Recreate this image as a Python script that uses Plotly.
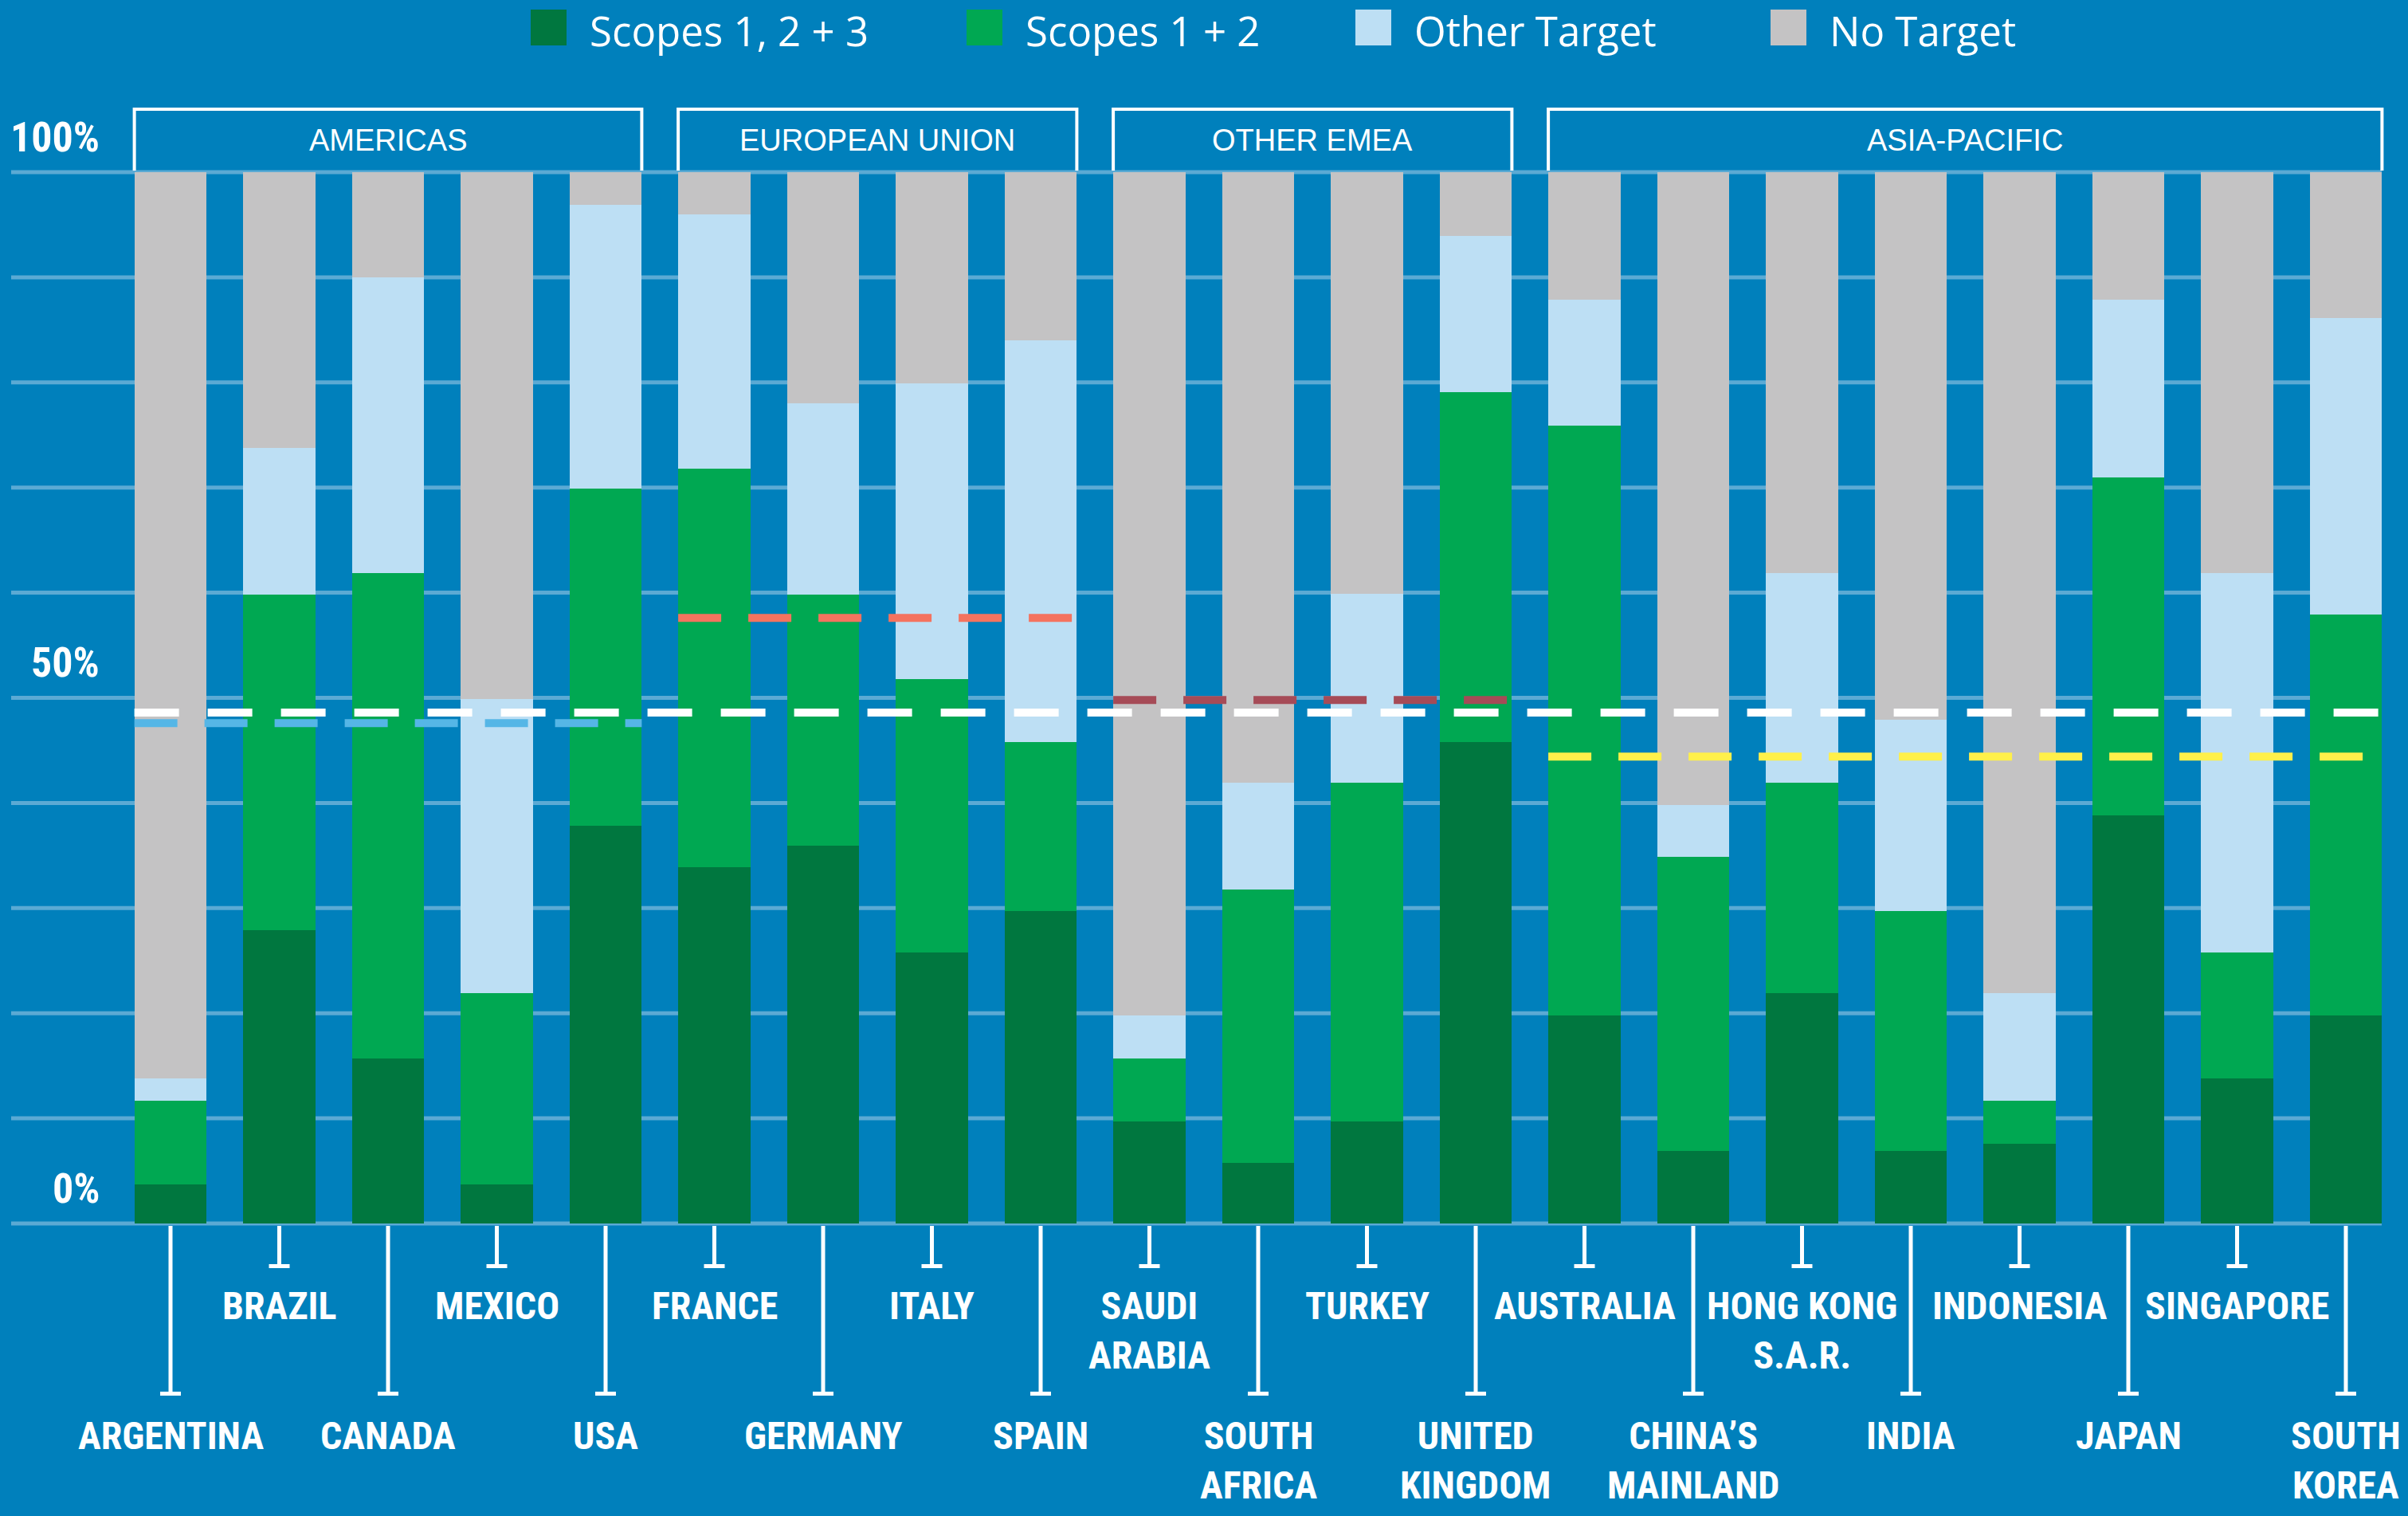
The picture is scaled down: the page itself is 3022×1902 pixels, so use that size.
import plotly.graph_objects as go

# ---- data (percent of companies) ----
countries = ["ARGENTINA", "BRAZIL", "CANADA", "MEXICO", "USA",
             "FRANCE", "GERMANY", "ITALY", "SPAIN",
             "SAUDI<br>ARABIA", "SOUTH<br>AFRICA", "TURKEY", "UNITED<br>KINGDOM",
             "AUSTRALIA", "CHINA’S<br>MAINLAND", "HONG KONG<br>S.A.R.", "INDIA",
             "INDONESIA", "JAPAN", "SINGAPORE", "SOUTH<br>KOREA"]

scopes_123 = [3.7, 27.9, 15.7, 3.7, 37.8, 33.9, 35.9, 25.8, 29.7, 9.7, 5.8,
              9.7, 45.8, 19.8, 6.9, 21.9, 6.9, 7.6, 38.8, 13.8, 19.8]
scopes_12 = [8.0, 31.9, 46.2, 18.2, 32.1, 37.9, 23.9, 26.0, 16.1, 6.0, 26.0,
             32.2, 33.3, 56.1, 28.0, 20.0, 22.8, 4.1, 32.2, 12.0, 38.1]
other_target = [2.1, 14.0, 28.1, 28.0, 27.0, 24.2, 18.2, 28.1, 38.2, 4.1, 10.1,
                18.0, 14.8, 12.0, 4.9, 20.0, 18.2, 10.2, 16.9, 36.1, 28.2]
no_target = [86.2, 26.2, 10.0, 50.1, 3.1, 4.0, 22.0, 20.1, 16.0, 80.2, 58.1,
             40.1, 6.1, 12.1, 60.2, 38.1, 52.1, 78.1, 12.1, 38.1, 13.9]

regions = ["AMERICAS", "EUROPEAN UNION", "OTHER EMEA", "ASIA-PACIFIC"]
region_sizes = [5, 4, 4, 8]
region_avg = [47.6, 57.6, 49.8, 44.4]
global_avg = 48.6

series_names = ["Scopes 1, 2 + 3", "Scopes 1 + 2", "Other Target", "No Target"]

# ---- styling ----
BG = "#0080BC"
GRID = "#5BAAD4"
COLORS = ["#00773F", "#00A852", "#BDDFF4", "#C4C3C4"]
AVG_COLORS = ["#55B6E6", "#F4735F", "#A64B57", "#FFF04A"]
W, H = 3022, 1902
BAR_W = 0.665
LABEL_FONT = "Roboto Condensed, DejaVu Sans Condensed, Liberation Sans Narrow, Roboto, sans-serif"

# pixel -> axis helpers (axes span the whole figure)
X0_PX, X_STEP = 214, 136.5
Y0_PX, Y_STEP = 1535, 13.19


def px_x(p):
    return (p - X0_PX) / X_STEP


def px_y(p):
    return (Y0_PX - p) / Y_STEP


xs = list(range(len(countries)))
fig = go.Figure()

for name, vals, col in zip(series_names, [scopes_123, scopes_12, other_target, no_target], COLORS):
    fig.add_trace(go.Bar(x=xs, y=vals, name=name, width=BAR_W,
                         marker=dict(color=col, line=dict(width=0)), showlegend=False))

# region average dashed lines
start = 0
for size, avg, col in zip(region_sizes, region_avg, AVG_COLORS):
    fig.add_trace(go.Scatter(x=[start - BAR_W / 2, start + size - 1 + BAR_W / 2], y=[avg, avg],
                             mode="lines", showlegend=False, hoverinfo="skip",
                             line=dict(color=col, width=10, dash="54px,34px")))
    start += size
fig.add_trace(go.Scatter(x=[-BAR_W / 2, len(xs) - 1 + BAR_W / 2], y=[global_avg, global_avg],
                         mode="lines", showlegend=False, hoverinfo="skip",
                         line=dict(color="white", width=10, dash="56px,36px")))

shapes = []
annotations = []

# gridlines
for v in range(0, 101, 10):
    shapes.append(dict(type="line", xref="x", yref="y", x0=px_x(14), x1=px_x(2989), y0=v, y1=v,
                       line=dict(color=GRID, width=5), layer="below"))
for v, t in [(100, "100%"), (50, "50%"), (0, "0%")]:
    annotations.append(dict(x=px_x(127), y=v + 3.3, text=t, showarrow=False, xanchor="right",
                            yanchor="middle", font=dict(family=LABEL_FONT, size=52, color="white",
                                                        weight="bold")))

# region header boxes
start = 0
for reg, size in zip(regions, region_sizes):
    x0 = start - BAR_W / 2
    x1 = start + size - 1 + BAR_W / 2
    yt, yb = px_y(137), px_y(214)
    shapes.append(dict(type="path", xref="x", yref="y",
                       path=f"M {x0},{yb} L {x0},{yt} L {x1},{yt} L {x1},{yb}",
                       line=dict(color="white", width=4)))
    annotations.append(dict(x=(x0 + x1) / 2, y=px_y(176), text=reg, showarrow=False,
                            xanchor="center", yanchor="middle",
                            font=dict(family="Liberation Sans, Arial, sans-serif", size=38,
                                      color="white")))
    start += size

# country labels with stems
for i, c in enumerate(countries):
    upper = i % 2 == 1
    end_px = 1591 if upper else 1751
    shapes.append(dict(type="line", xref="x", yref="y", x0=i, x1=i, y0=px_y(1538), y1=px_y(end_px),
                       line=dict(color="white", width=5)))
    shapes.append(dict(type="line", xref="x", yref="y", x0=i - 13 / X_STEP, x1=i + 13 / X_STEP,
                       y0=px_y(end_px - 2.5), y1=px_y(end_px - 2.5),
                       line=dict(color="white", width=5)))
    annotations.append(dict(x=i, y=px_y(1608 if upper else 1771), text=c, showarrow=False,
                            xanchor="center", yanchor="top", align="center",
                            font=dict(family=LABEL_FONT, size=48, color="white", weight="bold")))

# legend
legend_sq = [666, 1213, 1701, 2222]
for name, col, sx in zip(series_names, COLORS, legend_sq):
    shapes.append(dict(type="rect", xref="x", yref="y", x0=px_x(sx), x1=px_x(sx + 45),
                       y0=px_y(12), y1=px_y(57), fillcolor=col, line=dict(width=0)))
    annotations.append(dict(x=px_x(sx + 72), y=px_y(38), text=name, showarrow=False,
                            xanchor="left", yanchor="middle",
                            font=dict(family="Open Sans, Noto Sans, sans-serif", size=51,
                                      color="white")))

fig.update_layout(
    width=W, height=H,
    paper_bgcolor=BG, plot_bgcolor=BG,
    margin=dict(l=0, r=0, t=0, b=0),
    barmode="stack", bargap=0,
    xaxis=dict(range=[px_x(0), px_x(W)], visible=False, fixedrange=True),
    yaxis=dict(range=[px_y(H), px_y(0)], visible=False, fixedrange=True),
    shapes=shapes, annotations=annotations,
    showlegend=False,
)

# drop the default page margin so the figure sits at the window origin
fig.write_html("out.html", config={"displayModeBar": False},
               post_script="document.body.style.margin='0';")
